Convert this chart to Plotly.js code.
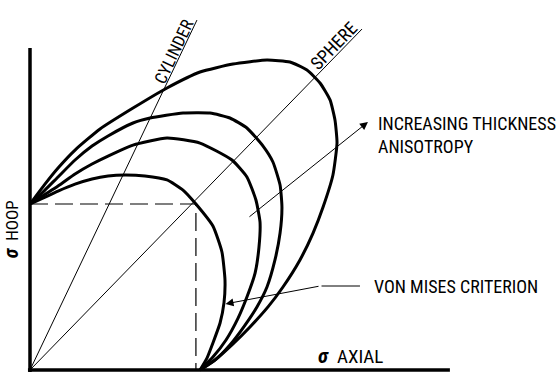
<!DOCTYPE html>
<html>
<head>
<meta charset="utf-8">
<script src="https://cdn.plot.ly/plotly-3.0.1.min.js"></script>
<style>html,body{margin:0;padding:0;background:#fff;}#chart{width:559px;height:373px;}</style>
</head>
<body>
<div id="chart"></div>
<script>
// Stress ratios: axial (x) and hoop (y), normalised to uniaxial yield = 1
const curveOuterX = [0, 0.088, 0.165, 0.265, 0.412, 0.606, 0.806, 1.0, 1.194, 1.394, 1.529, 1.629, 1.706, 1.765, 1.794, 1.806, 1.782, 1.724, 1.665, 1.588, 1.488, 1.4, 1.294, 1.188, 1.088, 1.0];
const curveOuterY = [1.0, 1.120, 1.217, 1.325, 1.452, 1.578, 1.699, 1.795, 1.843, 1.867, 1.855, 1.807, 1.729, 1.627, 1.506, 1.367, 1.175, 0.982, 0.825, 0.663, 0.5, 0.380, 0.259, 0.151, 0.060, 0];
const curveSecondX = [0, 0.088, 0.165, 0.265, 0.365, 0.459, 0.606, 0.706, 0.9, 1.059, 1.176, 1.276, 1.371, 1.429, 1.471, 1.482, 1.471, 1.441, 1.394, 1.335, 1.265, 1.176, 1.088, 1.0];
const curveSecondY = [1.0, 1.084, 1.163, 1.265, 1.349, 1.410, 1.488, 1.518, 1.548, 1.548, 1.518, 1.458, 1.349, 1.253, 1.114, 0.982, 0.825, 0.663, 0.5, 0.380, 0.271, 0.151, 0.060, 0];
const curveThirdX = [0, 0.165, 0.265, 0.365, 0.459, 0.606, 0.806, 1.0, 1.188, 1.276, 1.329, 1.353, 1.347, 1.324, 1.276, 1.224, 1.153, 1.076, 1.0];
const curveThirdY = [1.0, 1.108, 1.181, 1.241, 1.289, 1.355, 1.398, 1.367, 1.265, 1.163, 1.024, 0.892, 0.741, 0.584, 0.440, 0.313, 0.181, 0.078, 0];
const vonMisesX = [0, 0.165, 0.265, 0.365, 0.459, 0.559, 0.676, 0.806, 0.9, 0.976, 1.076, 1.129, 1.147, 1.141, 1.118, 1.076, 1.041, 1.0];
const vonMisesY = [1.0, 1.078, 1.120, 1.151, 1.169, 1.175, 1.169, 1.145, 1.084, 1.0, 0.867, 0.711, 0.542, 0.404, 0.283, 0.163, 0.072, 0];
// Loading paths from the origin
const cylinderX = [0, 0.982];
const cylinderY = [0, 2.108];
const sphereX = [0, 1.953];
const sphereY = [0, 2.054];
// Dashed guide to the equibiaxial von Mises point
const guideX = [0, 0.976, 0.976];
const guideY = [1.0, 1.0, 0];
// Labels
const labelCylinder = "CYLINDER";
const labelSphere = "SPHERE";
const labelArrow = "INCREASING THICKNESS<br>ANISOTROPY";
const labelVonMises = "VON MISES CRITERION";
const labelHoop = "<b><i><span style='font-size:20px'>σ</span></i></b>  HOOP";
const labelAxial = "<b><i><span style='font-size:21px'>σ</span></i></b>  AXIAL";

const FONT = "'Roboto Condensed', 'Liberation Sans Narrow', 'Arial Narrow', sans-serif";
const thick = {color: "#000", width: 3, shape: "spline", smoothing: 0.5};
const thin = {color: "#000", width: 1};

const traces = [
  {x: curveOuterX, y: curveOuterY, mode: "lines", line: thick},
  {x: curveSecondX, y: curveSecondY, mode: "lines", line: thick},
  {x: curveThirdX, y: curveThirdY, mode: "lines", line: thick},
  {x: vonMisesX, y: vonMisesY, mode: "lines", line: thick},
  {x: cylinderX, y: cylinderY, mode: "lines", line: thin},
  {x: sphereX, y: sphereY, mode: "lines", line: thin},
  {x: guideX, y: guideY, mode: "lines", line: {color: "#000", width: 1.2, dash: "18px,7px"}}
];

const layout = {
  width: 559, height: 373,
  margin: {l: 0, r: 0, t: 0, b: 0},
  paper_bgcolor: "#fff", plot_bgcolor: "#fff",
  showlegend: false,
  xaxis: {range: [-0.17647, 3.11176], visible: false, fixedrange: true},
  yaxis: {range: [-0.01807, 2.22892], visible: false, fixedrange: true},
  font: {family: FONT, color: "#000", size: 17},
  shapes: [
    {type: "line", xref: "x", yref: "y", x0: 0, y0: -0.012, x1: 0, y1: 1.94, line: {color: "#000", width: 3.5}},
    {type: "line", xref: "x", yref: "y", x0: -0.012, y0: 0, x1: 2.47, y1: 0, line: {color: "#000", width: 3.5}}
  ],
  annotations: [
    {x: 0.847, y: 1.922, xref: "x", yref: "y", text: labelCylinder, showarrow: false, textangle: -64.5, font: {size: 17}},
    {x: 1.788, y: 1.952, xref: "x", yref: "y", text: labelSphere, showarrow: false, textangle: -46, font: {size: 18}},
    {x: 2.035, y: 1.418, xref: "x", yref: "y", text: labelArrow, showarrow: false, xanchor: "left", yanchor: "middle", align: "left", font: {size: 18}},
    {x: 2.012, y: 0.506, xref: "x", yref: "y", text: labelVonMises, showarrow: false, xanchor: "left", yanchor: "middle", font: {size: 18}},
    {x: -0.112, y: 0.847, xref: "x", yref: "y", text: labelHoop, showarrow: false, textangle: -90, font: {size: 17}},
    {x: 1.68, y: 0.084, xref: "x", yref: "y", text: labelAxial, showarrow: false, xanchor: "left", yanchor: "middle", font: {size: 19}},
    // increasing-anisotropy arrow
    {x: 1.988, y: 1.494, ax: 1.282, ay: 0.916, xref: "x", yref: "y", axref: "x", ayref: "y", text: "", showarrow: true, arrowhead: 2, arrowsize: 1.6, arrowwidth: 1, arrowcolor: "#000"},
    // von Mises leader
    {x: 1.15, y: 0.398, ax: 1.706, ay: 0.506, xref: "x", yref: "y", axref: "x", ayref: "y", text: "", showarrow: true, arrowhead: 2, arrowsize: 1.6, arrowwidth: 1, arrowcolor: "#000"},
    {x: 1.941, y: 0.506, ax: 1.706, ay: 0.506, xref: "x", yref: "y", axref: "x", ayref: "y", text: "", showarrow: true, arrowhead: 0, arrowwidth: 1, arrowcolor: "#000"}
  ]
};

Plotly.newPlot("chart", traces, layout, {displayModeBar: false, staticPlot: true});
</script>
</body>
</html>
